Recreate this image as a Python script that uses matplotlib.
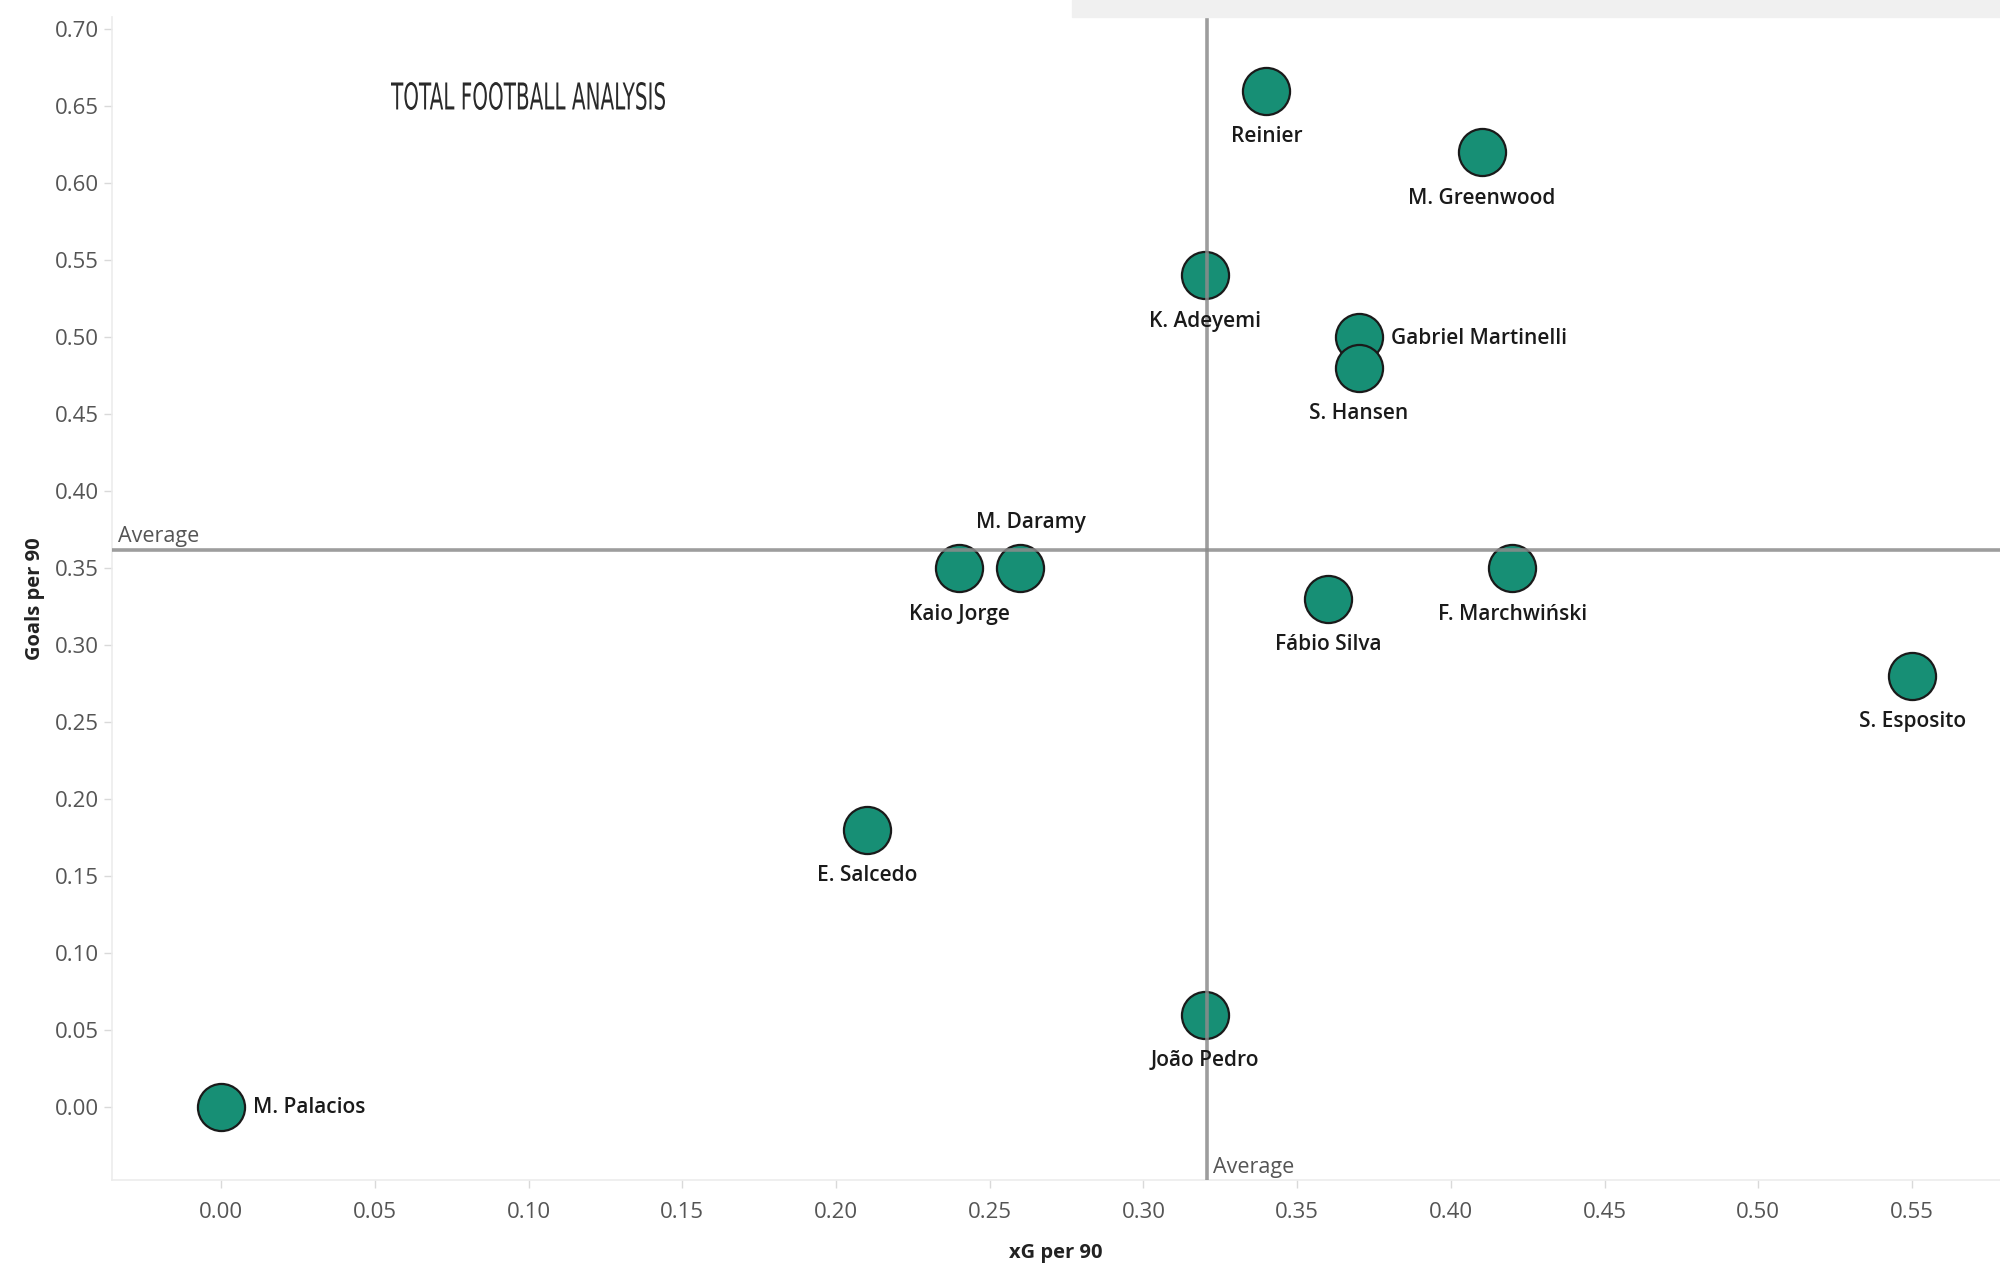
import matplotlib
matplotlib.use('Agg')
import matplotlib.pyplot as plt
from matplotlib.patches import Rectangle, PathPatch
from matplotlib.textpath import TextPath
from matplotlib.font_manager import FontProperties
from matplotlib.transforms import Affine2D, IdentityTransform
import numpy as np

# player data
players = ['Reinier', 'M. Greenwood', 'K. Adeyemi', 'Gabriel Martinelli', 'S. Hansen',
           'M. Daramy', 'Kaio Jorge', 'Fábio Silva', 'F. Marchwiński', 'S. Esposito',
           'E. Salcedo', 'João Pedro', 'M. Palacios']
xg_per90 = [0.34, 0.41, 0.32, 0.37, 0.37, 0.26, 0.24, 0.36, 0.42, 0.55, 0.21, 0.32, 0.00]
goals_per90 = [0.66, 0.62, 0.54, 0.50, 0.48, 0.35, 0.35, 0.33, 0.35, 0.28, 0.18, 0.06, 0.00]
label_side = ['below', 'below', 'below', 'right', 'below', 'above', 'below', 'below',
              'below', 'below', 'below', 'below', 'right']

xticks = [0.00, 0.05, 0.10, 0.15, 0.20, 0.25, 0.30, 0.35, 0.40, 0.45, 0.50, 0.55]
yticks = [0.00, 0.05, 0.10, 0.15, 0.20, 0.25, 0.30, 0.35, 0.40, 0.45, 0.50, 0.55, 0.60, 0.65, 0.70]

plt.rcParams['font.family'] = ['Open Sans', 'DejaVu Sans']

fig = plt.figure(figsize=(20, 12.73), dpi=100)
fig.patch.set_facecolor('white')
fig.patches.append(Rectangle((0.536, 0.9866), 0.464, 0.0134, transform=fig.transFigure,
                             color='#f0f0f0', zorder=0))

ax = fig.add_axes([0.056, 0.0731, 0.944, 0.9135])

avg_x = np.mean(xg_per90)
avg_y = np.mean(goals_per90)

ax.scatter(xg_per90, goals_per90, s=1150, color='#178f75', edgecolor='#1a1a1a',
           linewidth=1.6, zorder=3)
ax.axvline(avg_x, color='#8c8c8c', lw=2.6, alpha=0.85, zorder=4)
ax.axhline(avg_y, color='#8c8c8c', lw=2.6, alpha=0.85, zorder=4)

for name, x, y, side in zip(players, xg_per90, goals_per90, label_side):
    if side == 'below':
        off, ha, va = (0, -46), 'center', 'center'
    elif side == 'above':
        off, ha, va = (10, 46), 'center', 'center'
    else:
        off, ha, va = (32, -1), 'left', 'center'
    ax.annotate(name, (x, y), xytext=off, textcoords='offset pixels', ha=ha, va=va,
                fontsize=15, fontweight='semibold', color='#1a1a1a', zorder=5)

ax.text(-0.0335, avg_y + 0.0055, 'Average', fontsize=15.5, color='#555555',
        va='baseline', ha='left')
ax.text(avg_x + 0.002, -0.046, 'Average', fontsize=15.5, color='#555555',
        va='bottom', ha='left')

ax.set_xlim(-0.0355, 0.5786)
ax.set_ylim(-0.0474, 0.7078)
ax.set_xticks(xticks)
ax.set_yticks(yticks)
ax.set_xticklabels(['%.2f' % t for t in xticks])
ax.set_yticklabels(['%.2f' % t for t in yticks])
ax.tick_params(axis='both', colors='#d9d9d9', labelcolor='#555555', labelsize=16,
               length=6, width=1)
ax.tick_params(axis='x', pad=10)

for s in ['top', 'right']:
    ax.spines[s].set_visible(False)
for s in ['left', 'bottom']:
    ax.spines[s].set_color('#ececec')
    ax.spines[s].set_linewidth(1.2)

ax.set_xlabel('xG per 90', fontsize=14.5, fontweight='bold', color='#222222', labelpad=14)
ax.set_ylabel('Goals per 90', fontsize=14.5, fontweight='bold', color='#222222', labelpad=7)

# logo text, squeezed horizontally
tp = TextPath((0, 0), 'TOTAL FOOTBALL ANALYSIS', size=38,
              prop=FontProperties(family='DejaVu Sans'))
bb = tp.get_extents()
sx = 274 / bb.width
tr = Affine2D().translate(-bb.x0 - bb.width / 2, -bb.y0 - bb.height / 2) \
    .scale(sx, 28 / bb.height).translate(528, 1273 - 96)
logo = PathPatch(tp, transform=tr + IdentityTransform(), facecolor='#2a2a2a',
                 edgecolor='none')
fig.patches.append(logo)

plt.savefig('out.png', dpi=100, facecolor=fig.get_facecolor())
